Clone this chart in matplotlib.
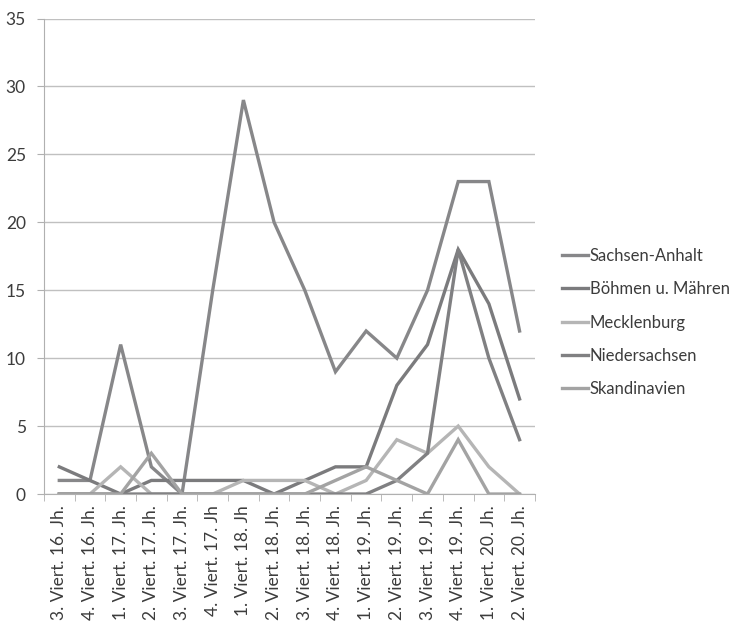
import matplotlib.pyplot as plt

# categories (quarter centuries)
categories = ['3. Viert. 16. Jh.', '4. Viert. 16. Jh.', '1. Viert. 17. Jh.', '2. Viert. 17. Jh.',
              '3. Viert. 17. Jh.', '4. Viert. 17. Jh', '1. Viert. 18. Jh', '2. Viert. 18. Jh.',
              '3. Viert. 18. Jh.', '4. Viert. 18. Jh.', '1. Viert. 19. Jh.', '2. Viert. 19. Jh.',
              '3. Viert. 19. Jh.', '4. Viert. 19. Jh.', '1. Viert. 20. Jh.', '2. Viert. 20. Jh.']

sachsen_anhalt = [1, 1, 11, 2, 0, 15, 29, 20, 15, 9, 12, 10, 15, 23, 23, 12]
boehmen = [2, 1, 0, 1, 1, 1, 1, 0, 1, 2, 2, 8, 11, 18, 14, 7]
mecklenburg = [0, 0, 2, 0, 0, 0, 1, 1, 1, 0, 1, 4, 3, 5, 2, 0]
niedersachsen = [0, 0, 0, 0, 0, 0, 0, 0, 0, 0, 0, 1, 3, 18, 10, 4]
skandinavien = [0, 0, 0, 3, 0, 0, 0, 0, 0, 1, 2, 1, 0, 4, 0, 0]

series = [
    ('Sachsen-Anhalt', sachsen_anhalt, '#878789'),
    ('Böhmen u. Mähren', boehmen, '#7b7b7d'),
    ('Mecklenburg', mecklenburg, '#b5b5b5'),
    ('Niedersachsen', niedersachsen, '#808082'),
    ('Skandinavien', skandinavien, '#a3a3a3'),
]

plt.rcParams['font.family'] = ['Lato', 'DejaVu Sans']
text_col = '#3c3c3c'

fig = plt.figure(figsize=(7.45, 6.24), dpi=100)
ax = fig.add_axes([0.059, 0.2083, 0.659, 0.762])

x = list(range(len(categories)))
for name, vals, col in series:
    ax.plot(x, vals, color=col, lw=2.4, label=name, solid_joinstyle='miter')

ax.set_xlim(-0.5, len(categories) - 0.5)
ax.set_ylim(0, 35)
ax.set_yticks(range(0, 36, 5))
ax.yaxis.grid(True, color='#c0c0c0', lw=1)
ax.set_axisbelow(True)

ax.set_xticks(x)
ax.set_xticklabels(categories, rotation=90, fontsize=12.5, color=text_col)
ax.set_xticks([i - 0.5 for i in range(len(categories) + 1)], minor=True)
ax.tick_params(axis='x', which='major', length=0, pad=8)
ax.tick_params(axis='x', which='minor', length=5, color='#b0b0b0')
ax.tick_params(axis='y', length=5, color='#b0b0b0', labelsize=12.5, labelcolor=text_col, pad=8)

for s in ['top', 'right']:
    ax.spines[s].set_visible(False)
ax.spines['left'].set_color('#b0b0b0')
ax.spines['bottom'].set_color('#b0b0b0')

fig.legend(loc='center left', bbox_to_anchor=(0.754, 0.483), frameon=False,
           fontsize=12, handlelength=1.55, handletextpad=0.12, labelspacing=1.04,
           borderpad=0, borderaxespad=0, labelcolor=text_col)

fig.savefig('out.png', dpi=100)
